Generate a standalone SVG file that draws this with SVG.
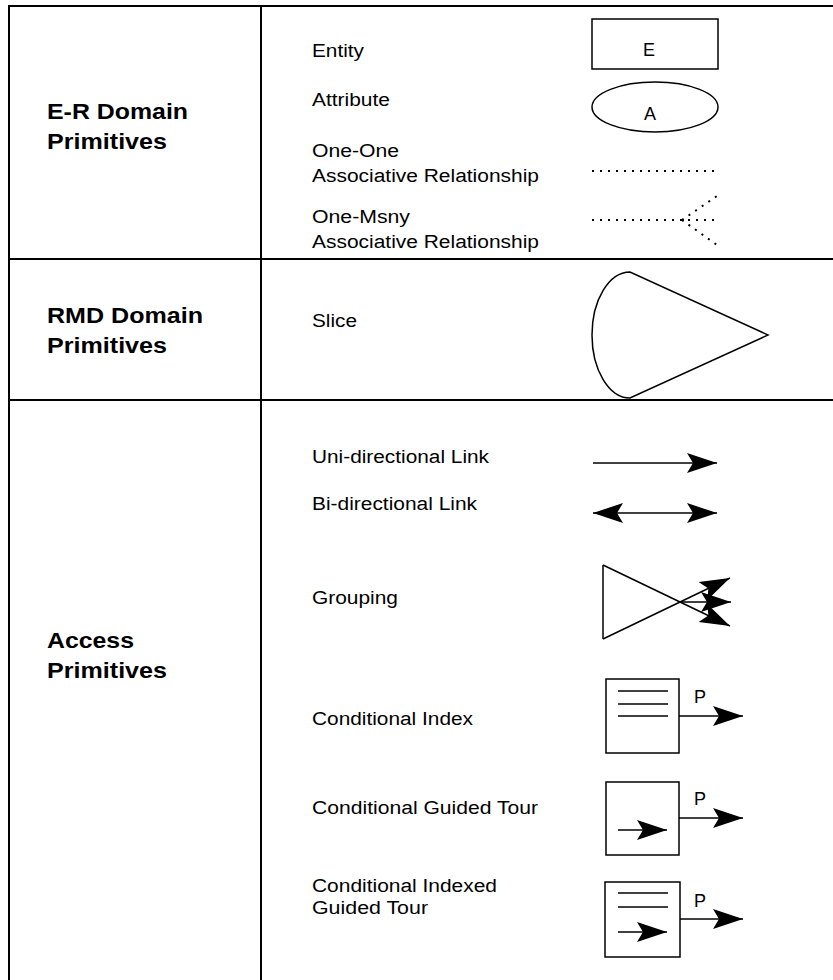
<svg xmlns="http://www.w3.org/2000/svg" width="833" height="980" viewBox="0 0 833 980">
<style>
.grid{stroke:#000;stroke-width:2;fill:none}
.ln{stroke:#000;stroke-width:1.5;fill:none}
.dot{stroke:#000;stroke-width:2;fill:none;stroke-dasharray:2 6}
.h{font-family:"Liberation Sans",Arial,sans-serif;font-weight:bold;font-size:22px;fill:#000}
.t{font-family:"Liberation Sans",Arial,sans-serif;font-size:18px;fill:#000}
.c{font-family:"Liberation Sans",Arial,sans-serif;font-size:18px;fill:#000;text-anchor:middle}
</style>
<defs>
<marker id="ah" markerUnits="userSpaceOnUse" viewBox="0 0 32 22" markerWidth="32" markerHeight="22" refX="30" refY="11" orient="auto-start-reverse">
<path d="M0,1 L30,11 L0,21 L6,11 Z" fill="#000"/>
</marker>
</defs>
<g id="table">
<line class="grid" x1="9" y1="6" x2="833" y2="6"/>
<line class="grid" x1="9" y1="259" x2="833" y2="259"/>
<line class="grid" x1="9" y1="400" x2="833" y2="400"/>
<line class="grid" x1="9" y1="5" x2="9" y2="980"/>
<line class="grid" x1="261" y1="5" x2="261" y2="980"/>
</g>
<g id="er-header">
<text class="h" x="47" y="119" textLength="141" lengthAdjust="spacingAndGlyphs">E-R Domain</text>
<text class="h" x="47" y="149" textLength="120" lengthAdjust="spacingAndGlyphs">Primitives</text>
</g>
<g id="rmd-header">
<text class="h" x="47" y="323" textLength="156" lengthAdjust="spacingAndGlyphs">RMD Domain</text>
<text class="h" x="47" y="353" textLength="120" lengthAdjust="spacingAndGlyphs">Primitives</text>
</g>
<g id="access-header">
<text class="h" x="47" y="648" textLength="87" lengthAdjust="spacingAndGlyphs">Access</text>
<text class="h" x="47" y="678" textLength="120" lengthAdjust="spacingAndGlyphs">Primitives</text>
</g>
<g id="entity">
<text class="t" x="312" y="57" textLength="52" lengthAdjust="spacingAndGlyphs">Entity</text>
<rect class="ln" x="592" y="19" width="126" height="50"/>
<text class="c" x="649" y="56">E</text>
</g>
<g id="attribute">
<text class="t" x="312" y="106" textLength="78" lengthAdjust="spacingAndGlyphs">Attribute</text>
<ellipse class="ln" cx="655" cy="107" rx="63" ry="25"/>
<text class="c" x="650" y="120">A</text>
</g>
<g id="one-one">
<text class="t" x="312" y="157" textLength="87" lengthAdjust="spacingAndGlyphs">One-One</text>
<text class="t" x="312" y="182" textLength="227" lengthAdjust="spacingAndGlyphs">Associative Relationship</text>
<line class="dot" x1="592" y1="171" x2="720" y2="171"/>
</g>
<g id="one-many">
<text class="t" x="312" y="223" textLength="98" lengthAdjust="spacingAndGlyphs">One-Msny</text>
<text class="t" x="312" y="248" textLength="227" lengthAdjust="spacingAndGlyphs">Associative Relationship</text>
<line class="dot" x1="592" y1="220" x2="720" y2="220"/>
<line class="dot" x1="682" y1="220" x2="717" y2="196"/>
<line class="dot" x1="682" y1="220" x2="717" y2="245"/>
</g>
<g id="slice">
<text class="t" x="312" y="327" textLength="45" lengthAdjust="spacingAndGlyphs">Slice</text>
<path class="ln" d="M630,272 A38,63 0 0 0 630,398 L768,335 Z"/>
</g>
<g id="uni-link">
<text class="t" x="312" y="463" textLength="177" lengthAdjust="spacingAndGlyphs">Uni-directional Link</text>
<line class="ln" x1="593" y1="463" x2="717" y2="463" marker-end="url(#ah)"/>
</g>
<g id="bi-link">
<text class="t" x="312" y="510" textLength="165" lengthAdjust="spacingAndGlyphs">Bi-directional Link</text>
<line class="ln" x1="593" y1="513" x2="717" y2="513" marker-start="url(#ah)" marker-end="url(#ah)"/>
</g>
<g id="grouping">
<text class="t" x="312" y="604" textLength="86" lengthAdjust="spacingAndGlyphs">Grouping</text>
<line class="ln" x1="603" y1="565" x2="603" y2="639"/>
<line class="ln" x1="603" y1="639" x2="730" y2="578" marker-end="url(#ah)"/>
<line class="ln" x1="603" y1="565" x2="730" y2="626" marker-end="url(#ah)"/>
<line class="ln" x1="680" y1="602" x2="731" y2="602" marker-end="url(#ah)"/>
</g>
<g id="cond-index">
<text class="t" x="312" y="725" textLength="161" lengthAdjust="spacingAndGlyphs">Conditional Index</text>
<rect class="ln" x="606" y="679" width="73" height="74"/>
<line class="ln" x1="618" y1="691" x2="668" y2="691"/>
<line class="ln" x1="618" y1="704" x2="668" y2="704"/>
<line class="ln" x1="618" y1="716" x2="668" y2="716"/>
<line class="ln" x1="679" y1="716" x2="743" y2="716" marker-end="url(#ah)"/>
<text class="t" x="694" y="703">P</text>
</g>
<g id="cond-tour">
<text class="t" x="312" y="814" textLength="226" lengthAdjust="spacingAndGlyphs">Conditional Guided Tour</text>
<rect class="ln" x="606" y="782" width="73" height="73"/>
<line class="ln" x1="618" y1="830" x2="667" y2="830" marker-end="url(#ah)"/>
<line class="ln" x1="679" y1="818" x2="743" y2="818" marker-end="url(#ah)"/>
<text class="t" x="694" y="805">P</text>
</g>
<g id="cond-indexed-tour">
<text class="t" x="312" y="892" textLength="185" lengthAdjust="spacingAndGlyphs">Conditional Indexed</text>
<text class="t" x="312" y="914" textLength="116" lengthAdjust="spacingAndGlyphs">Guided Tour</text>
<rect class="ln" x="605" y="882" width="75" height="75"/>
<line class="ln" x1="618" y1="893" x2="668" y2="893"/>
<line class="ln" x1="618" y1="907" x2="668" y2="907"/>
<line class="ln" x1="618" y1="932" x2="667" y2="932" marker-end="url(#ah)"/>
<line class="ln" x1="680" y1="919" x2="743" y2="919" marker-end="url(#ah)"/>
<text class="t" x="694" y="907">P</text>
</g>
</svg>
